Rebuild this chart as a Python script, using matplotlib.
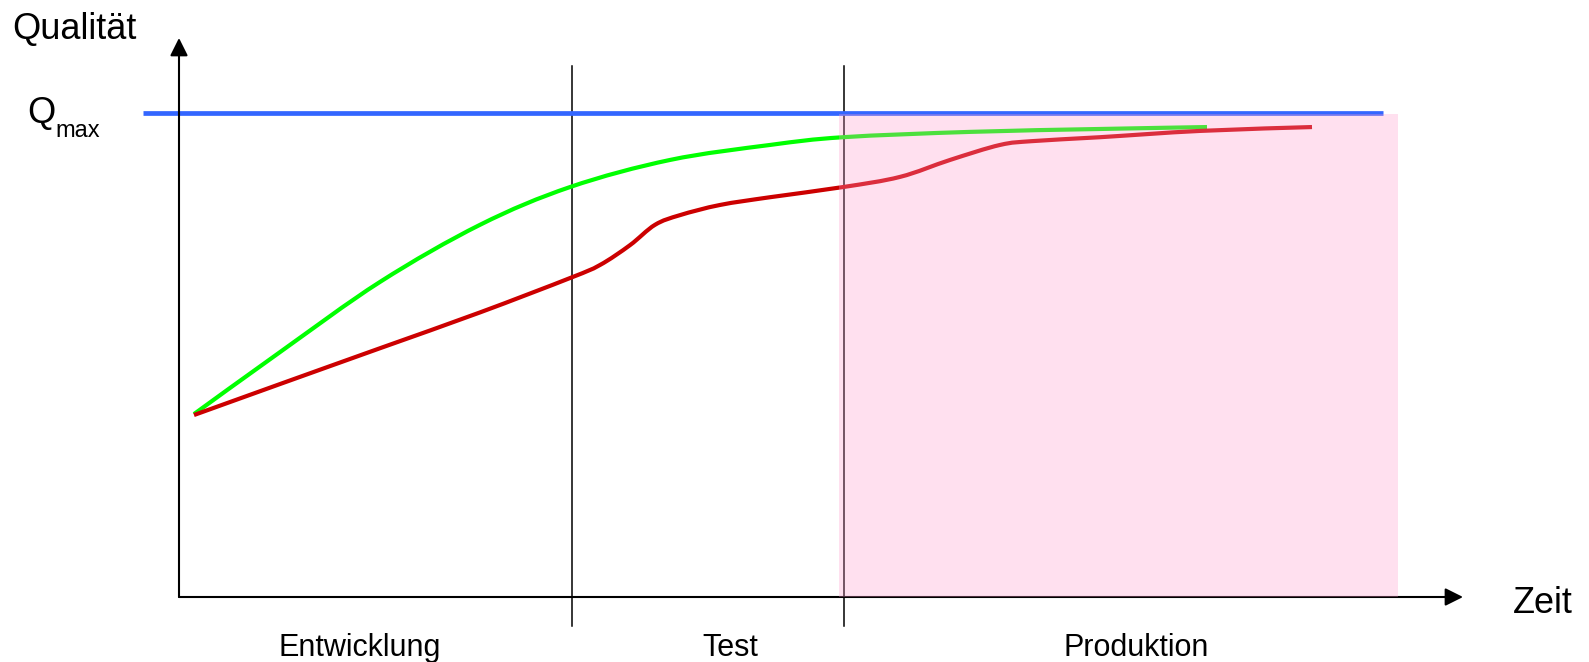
import matplotlib
matplotlib.use("Agg")
import matplotlib.pyplot as plt
from matplotlib.patches import Rectangle, PathPatch
from matplotlib.path import Path

plt.rcParams['font.family'] = ['Liberation Sans', 'DejaVu Sans']

# Zeit (t) und Qualitaet (q), Qmax = 100
Q_MAX = 100
phase_bounds = [39.3, 66.5]          # Ende Entwicklung, Ende Test
phase_names = ["Entwicklung", "Test", "Produktion"]
phase_label_t = [18.1, 55.1, 95.7]

# ideale Entwicklung (gruen)
green_t = [1.5, 10.1, 20.1, 30.1, 39.1, 49.1, 59.1, 66.4, 79.1, 92.1, 102.8]
green_q = [37.8, 50.6, 65.1, 76.9, 84.7, 90.3, 93.4, 95.0, 96.1, 96.7, 97.1]

# reale Entwicklung (rot)
red_t = [1.5, 10.1, 20.1, 30.1, 39.1, 42.1, 45.1, 47.6, 50.1, 54.1, 59.1, 66.4, 72.1, 77.1, 82.1, 85.4, 92.1, 102.1, 113.3]
red_q = [37.6, 44.0, 51.4, 58.8, 65.9, 68.6, 72.7, 76.9, 78.9, 81.0, 82.6, 84.7, 86.8, 90.3, 93.4, 94.2, 95.0, 96.3, 97.1]

qmax_span = [-3.6, 120.4]
prod_span = [66.0, 121.9]


def smooth_path(xs, ys):
    # Catmull-Rom durch die Punkte, als Bezier-Pfad
    pts = list(zip(xs, ys))
    verts = [pts[0]]
    codes = [Path.MOVETO]
    n = len(pts)
    for i in range(n - 1):
        p0 = pts[max(i - 1, 0)]
        p1 = pts[i]
        p2 = pts[i + 1]
        p3 = pts[min(i + 2, n - 1)]
        c1 = (p1[0] + (p2[0] - p0[0]) / 6, p1[1] + (p2[1] - p0[1]) / 6)
        c2 = (p2[0] - (p3[0] - p1[0]) / 6, p2[1] - (p3[1] - p1[1]) / 6)
        verts += [c1, c2, p2]
        codes += [Path.CURVE4] * 3
    return Path(verts, codes)


fig = plt.figure(figsize=(15.89, 6.62), dpi=100)
ax = fig.add_axes([0, 0, 1, 1])
ax.set_xlim(-17.9, 141.0)
ax.set_ylim(-13.43, 123.35)
ax.axis('off')

# Achsen mit Pfeilen
arrow = dict(arrowstyle='-|>', lw=1.5, color='black', mutation_scale=27, shrinkA=0, shrinkB=0)
ax.annotate('', xy=(0, 115.5), xytext=(0, 0), arrowprops=arrow)
ax.annotate('', xy=(128.4, 0), xytext=(0, 0), arrowprops=arrow)

# Phasengrenzen
for b in phase_bounds:
    ax.plot([b, b], [-6.0, 109.7], color='black', lw=1.1)

ax.plot(qmax_span, [Q_MAX, Q_MAX], color='#3366FF', lw=3.4, solid_capstyle='butt')
ax.add_patch(PathPatch(smooth_path(green_t, green_q), facecolor='none',
                       edgecolor='#00FF00', lw=3.0, capstyle='butt', zorder=3))
ax.add_patch(PathPatch(smooth_path(red_t, red_q), facecolor='none',
                       edgecolor='#CC0000', lw=3.0, capstyle='butt', zorder=3))

# Produktionsphase
ax.add_patch(Rectangle((prod_span[0], 0), prod_span[1] - prod_span[0], Q_MAX - 0.2,
                       facecolor='#FF99CC', alpha=0.3, edgecolor='none', zorder=5))

ax.text(-16.7, 115.3, "Qualität", fontsize=26, ha='left', va='baseline')
ax.text(-15.2, 97.9, "Q", fontsize=26, ha='left', va='baseline')
ax.text(-12.4, 95.0, "max", fontsize=17, ha='left', va='baseline')
ax.text(133.4, -3.3, "Zeit", fontsize=26, ha='left', va='baseline')
for name, t in zip(phase_names, phase_label_t):
    ax.text(t, -12.2, name, fontsize=22, ha='center', va='baseline')

fig.savefig("out.png", dpi=100)
